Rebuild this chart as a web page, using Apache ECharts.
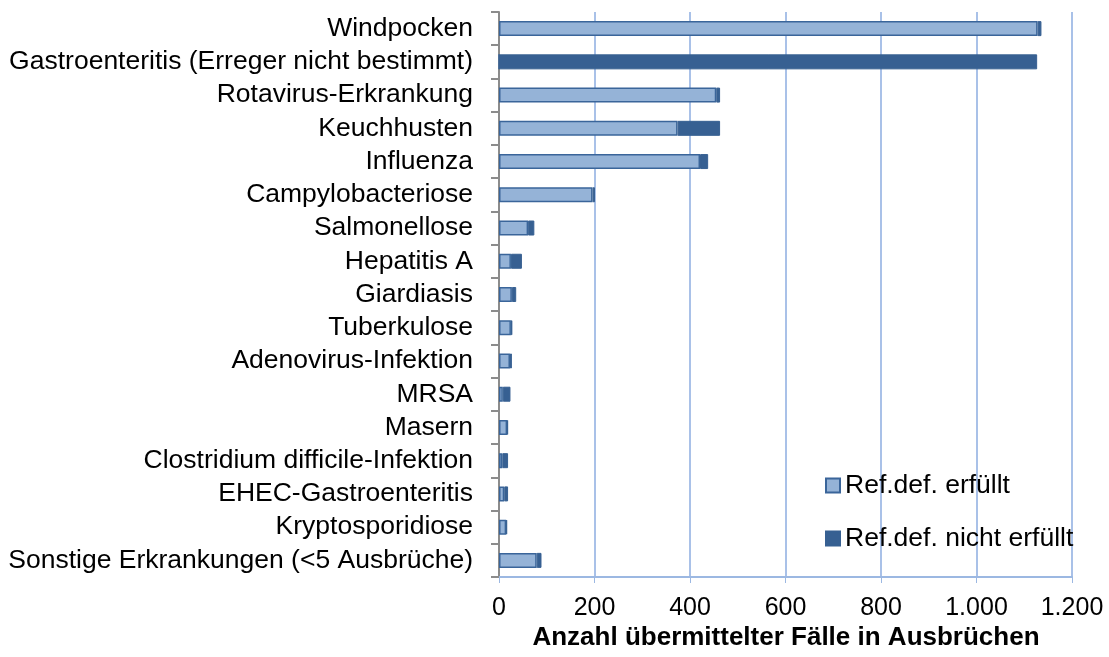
<!DOCTYPE html>
<html><head><meta charset="utf-8">
<script src="https://cdn.jsdelivr.net/npm/echarts@6/dist/echarts.min.js"></script>
<style>html,body{margin:0;padding:0;background:#fff}#c{width:1109px;height:657px}</style>
</head><body><div id="c"></div>
<script>
const categories = ['Windpocken','Gastroenteritis (Erreger nicht bestimmt)','Rotavirus-Erkrankung','Keuchhusten','Influenza','Campylobacteriose','Salmonellose','Hepatitis A','Giardiasis','Tuberkulose','Adenovirus-Infektion','MRSA','Masern','Clostridium difficile-Infektion','EHEC-Gastroenteritis','Kryptosporidiose','Sonstige Erkrankungen (<5 Ausbrüche)'];
const erfuellt =      [1128, 0, 455, 374, 421, 196, 61, 25, 27, 25, 23, 8, 17, 7, 11, 15, 79];
const nichtErfuellt = [8, 1127, 8, 89, 17, 5, 13, 23, 9, 3, 4, 16, 2, 12, 8, 2, 10];
const seriesNames = ['Ref.def. erfüllt','Ref.def. nicht erfüllt'];
const xTicks = {min:0, max:1200, interval:200};
const axisTitle = 'Anzahl übermittelter Fälle in Ausbrüchen';

const chart = echarts.init(document.getElementById('c'), null, {renderer:'canvas'});
const font = 'Liberation Sans, Arial, sans-serif';
chart.setOption({
  animation:false,
  textStyle:{fontFamily:font},
  title:{text:axisTitle, left:786, top:625, textAlign:'center', padding:0,
    textStyle:{fontFamily:font, fontSize:26, fontWeight:'bold', color:'#000'}},
  grid:{left:499, right:37, top:12, bottom:80, containLabel:false},
  legend:{orient:'vertical', left:825, top:472, itemGap:26, itemWidth:14, itemHeight:14, padding:0,
    icon:'rect', textStyle:{fontFamily:font, fontSize:26.5, color:'#000'},
    data:seriesNames},
  xAxis:{type:'value', min:xTicks.min, max:xTicks.max, interval:xTicks.interval,
    axisLine:{show:true, lineStyle:{color:'#9CB8E2', width:2}},
    axisTick:{show:true, length:6, lineStyle:{color:'#9CB8E2', width:1}},
    splitLine:{show:true, lineStyle:{color:'#A9C1E8', width:2}},
    axisLabel:{fontFamily:font, fontSize:25, color:'#000', margin:19,
      formatter:v=>v.toString().replace(/\B(?=(\d{3})+(?!\d))/g,'.')}},
  yAxis:{type:'category', data:categories, inverse:true,
    axisLine:{show:true, lineStyle:{color:'#8C8C8C', width:2}},
    axisTick:{show:true, length:8, lineStyle:{color:'#8C8C8C', width:2}},
    axisLabel:{fontFamily:font, fontSize:26.5, color:'#000', margin:26, interval:0}},
  series:[
    {name:seriesNames[0], type:'bar', stack:'a', data:erfuellt, barWidth:15,
     itemStyle:{color:'#95B3D7', borderColor:'#3A659A', borderWidth:1.5}},
    {name:seriesNames[1], type:'bar', stack:'a', data:nichtErfuellt, barWidth:15,
     itemStyle:{color:'#376092', borderColor:'#376092', borderWidth:1}}
  ]
});
</script></body></html>
